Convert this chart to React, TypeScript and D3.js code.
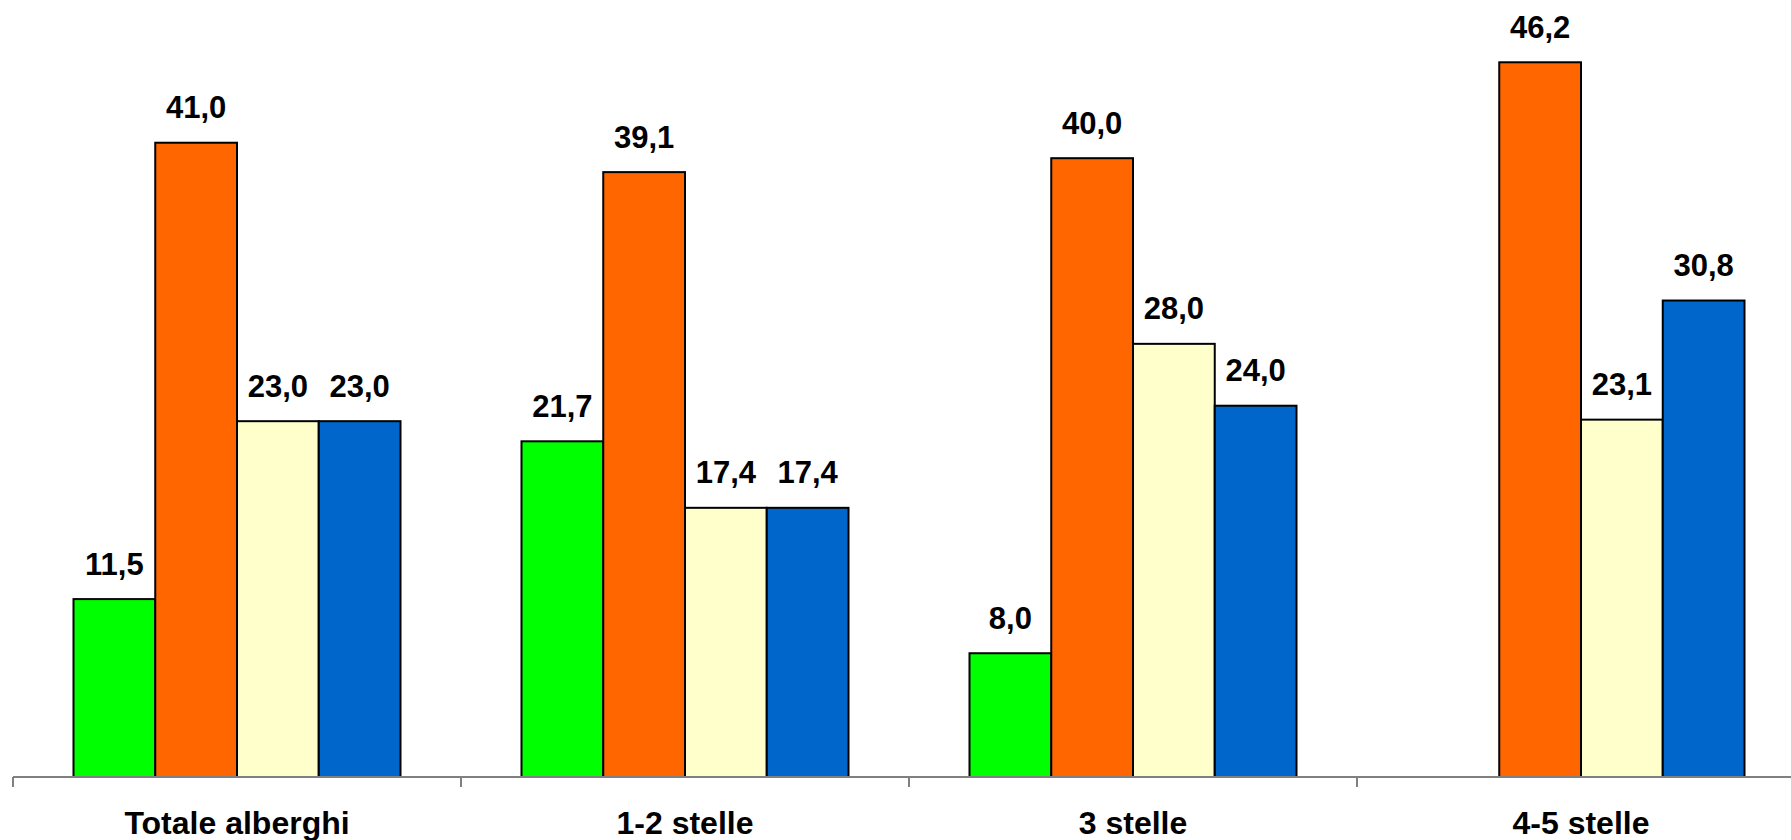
import React from "react";
import * as d3 from "d3";

const categories = ["Totale alberghi", "1-2 stelle", "3 stelle", "4-5 stelle"];
const seriesKeys = ["s1", "s2", "s3", "s4"];
const seriesColors = ["#00FF00", "#FF6600", "#FFFFCC", "#0066CC"];
const s1 = [11.5, 21.7, 8.0, null];
const s2 = [41.0, 39.1, 40.0, 46.2];
const s3 = [23.0, 17.4, 28.0, 23.1];
const s4 = [23.0, 17.4, 24.0, 30.8];
const seriesValues = [s1, s2, s3, s4];

const W = 1791;
const H = 840;
const axisY = 777;

export default function App() {
  const x0 = d3.scaleBand<string>().domain(categories).range([13, 13 + 4 * 448]);
  const bw = x0.bandwidth();
  const x1 = d3.scaleBand<string>().domain(seriesKeys).range([60.5, bw - 60.5]);
  const y = d3.scaleLinear().domain([0, 50]).range([axisY, axisY - 50 * 15.47]);
  const fmt = (v: number) => v.toFixed(1).replace(".", ",");

  const ticks = [...categories.map((c) => x0(c)!), 13 + 4 * 448];

  return (
    <div style={{ position: "fixed", left: 0, top: 0, width: W, height: H, background: "#fff" }}>
      <svg width={W} height={H} style={{ display: "block" }} fontFamily="'Liberation Sans', Arial, sans-serif">
        <rect x={0} y={0} width={W} height={H} fill="#fff" />
        {categories.map((c, ci) =>
          seriesKeys.map((k, si) => {
            const v = seriesValues[si][ci];
            if (v == null) return null;
            const bx = x0(c)! + x1(k)!;
            const by = y(v);
            return (
              <g key={c + k}>
                <rect
                  x={bx}
                  y={by}
                  width={x1.bandwidth()}
                  height={axisY - by}
                  fill={seriesColors[si]}
                  stroke="#000"
                  strokeWidth={2}
                />
                <text
                  x={bx + x1.bandwidth() / 2}
                  y={by - 24.5}
                  textAnchor="middle"
                  fontSize={31}
                  fontWeight="bold"
                  fill="#000"
                >
                  {fmt(v)}
                </text>
              </g>
            );
          })
        )}
        <line x1={13} x2={W} y1={axisY} y2={axisY} stroke="#808080" strokeWidth={2} />
        {ticks.map((t, i) => (
          <line key={i} x1={t} x2={t} y1={axisY} y2={axisY + 10} stroke="#808080" strokeWidth={2} />
        ))}
        {categories.map((c) => (
          <text
            key={c}
            x={x0(c)! + bw / 2}
            y={834}
            textAnchor="middle"
            fontSize={32}
            fontWeight="bold"
            fill="#000"
          >
            {c}
          </text>
        ))}
      </svg>
    </div>
  );
}
